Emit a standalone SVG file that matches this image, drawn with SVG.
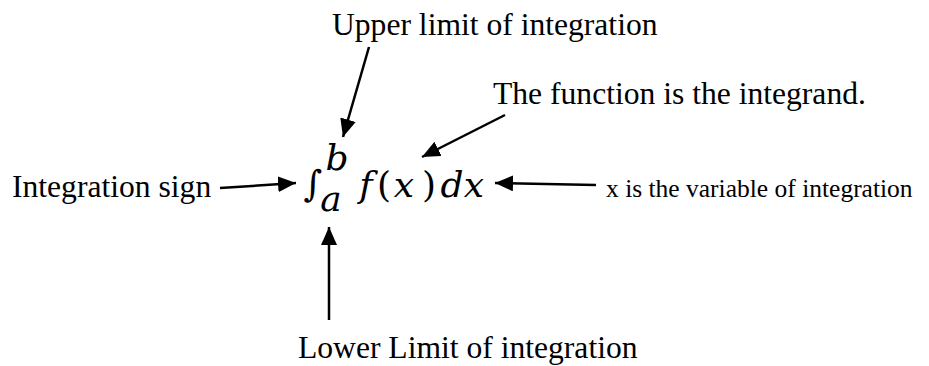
<svg xmlns="http://www.w3.org/2000/svg" width="929" height="366" viewBox="0 0 929 366">
<style>
.lbl{font-family:"Liberation Serif","Times New Roman",serif;font-size:31.6px;fill:#000}
.sm{font-size:25.5px}
.m{font-family:"DejaVu Serif","Liberation Serif",serif;font-style:italic;font-size:36px;fill:#000}
.mu{font-family:"DejaVu Serif","Liberation Serif",serif;font-size:36px;fill:#000}
.con line{stroke:#000;stroke-width:2.5;fill:none}
</style>
<defs>
<marker id="ah" markerUnits="userSpaceOnUse" markerWidth="20" markerHeight="16" refX="18" refY="8" orient="auto" viewBox="0 0 20 16">
<path d="M0,0 L18,8 L0,16 Z" fill="#000"/>
</marker>
</defs>
<rect width="929" height="366" fill="#fff"/>
<g id="formula">
<text class="mu" x="313" y="196" text-anchor="middle" font-size="62">∫</text>
<text class="m" x="337" y="170" text-anchor="middle" font-size="25">b</text>
<text class="m" x="331" y="211" text-anchor="middle" font-size="25">a</text>
<text class="m" x="366" y="197" text-anchor="middle">f</text>
<text class="mu" x="384" y="197" text-anchor="middle">(</text>
<text class="m" x="404" y="197" text-anchor="middle">x</text>
<text class="mu" x="429" y="197" text-anchor="middle">)</text>
<text class="m" x="452" y="197" text-anchor="middle">d</text>
<text class="m" x="474" y="197" text-anchor="middle">x</text>
</g>
<g id="upper"><text class="lbl" x="332" y="35">Upper limit of integration</text></g>
<g id="function"><text class="lbl" x="493" y="104">The function is the integrand.</text></g>
<g id="sign"><text class="lbl" x="12" y="197">Integration sign</text></g>
<g id="variable"><text class="lbl sm" x="606" y="197">x is the variable of integration</text></g>
<g id="lower"><text class="lbl" x="298" y="358">Lower Limit of integration</text></g>
<g class="con" id="connectors">
<line x1="369" y1="47" x2="343" y2="137" marker-end="url(#ah)"/>
<line x1="505" y1="115" x2="422" y2="157" marker-end="url(#ah)"/>
<line x1="220" y1="188" x2="296" y2="183" marker-end="url(#ah)"/>
<line x1="596" y1="185" x2="495" y2="183" marker-end="url(#ah)"/>
<line x1="329" y1="320" x2="329" y2="227" marker-end="url(#ah)"/>
</g>
</svg>
